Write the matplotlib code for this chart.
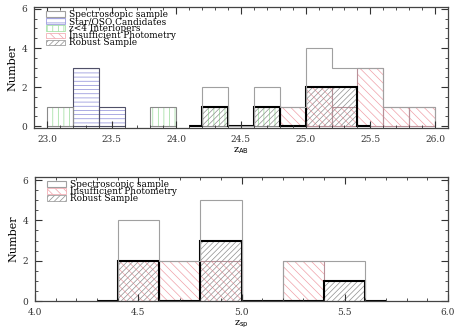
import numpy as np
import matplotlib
matplotlib.use('Agg')
import matplotlib.pyplot as plt
from matplotlib.patches import Patch
from matplotlib.ticker import MultipleLocator

plt.rcParams['font.family'] = 'DejaVu Serif'
plt.rcParams['hatch.linewidth'] = 0.5

# --- data (bin width 0.2, counts per bin) ------------------------------------
width = 0.2

# top panel: magnitude z_AB
top_star_lo = [23.2, 23.4]
top_star_n = [3, 1]
top_inter_lo = [23.0, 23.8, 24.2, 24.6]
top_inter_n = [1, 1, 1, 1]
top_insuf_lo = [24.8, 25.0, 25.2, 25.4, 25.6, 25.8]
top_insuf_n = [1, 2, 1, 3, 1, 1]
top_spec_start = 24.2
top_spec_n = [2, 0, 2, 1, 4, 3, 3, 1, 1]
top_rob_start = 24.2
top_rob_n = [1, 0, 1, 0, 2, 2]

# bottom panel: spectroscopic redshift z_sp
bot_insuf_lo = [4.4, 4.6, 4.8, 5.2]
bot_insuf_n = [2, 2, 2, 2]
bot_spec_start = 4.4
bot_spec_n = [4, 2, 5, 0, 2, 2]
bot_rob_start = 4.4
bot_rob_n = [2, 0, 3, 0, 0, 1]

# colours
c_spec = '#a0a0a0'
c_star_h, c_star_e = '#8a8ad8', '#505068'
c_inter_h, c_inter_e = '#98dc98', '#8a8a8a'
c_insuf_h, c_insuf_e = '#f0a0a8', '#b89098'
c_rob_h = '#8e8e8e'

H_STAR = '----'
H_INTER = '|||'
H_INSUF = '\\\\\\\\'
H_ROB = '//////'


def hatched(ax, lo, n, hcol, ecol, hatch):
    ax.bar(lo, n, width=width, align='edge', fill=False, hatch=hatch,
           edgecolor=hcol, linewidth=0)
    ax.bar(lo, n, width=width, align='edge', fill=False,
           edgecolor=ecol, linewidth=0.8)


def robust(ax, start, n):
    lo = start + width * np.arange(len(n))
    ax.bar(lo, n, width=width, align='edge', fill=False, hatch=H_ROB,
           edgecolor=c_rob_h, linewidth=0)
    # IDL-style outline, padded with half-width empty bins
    vals = np.concatenate([[0], n, [0]])
    edges = np.concatenate([[start - width / 2], start + width * np.arange(len(n) + 1),
                            [start + width * len(n) + width / 2]])
    ax.stairs(vals, edges, color='black', linewidth=1.5, baseline=None)


def spec(ax, start, n):
    edges = start + width * np.arange(len(n) + 1)
    ax.stairs(n, edges, color=c_spec, linewidth=0.8, baseline=0)


def style(ax):
    ax.tick_params(which='both', direction='in', top=True, right=True,
                   labelsize=6.5, colors='#333333', pad=5)
    ax.tick_params(which='major', length=5, width=0.8)
    ax.tick_params(which='minor', length=2.5, width=0.6)
    ax.yaxis.set_major_locator(MultipleLocator(2))
    ax.yaxis.set_minor_locator(MultipleLocator(0.5))
    ax.xaxis.set_major_locator(MultipleLocator(0.5))
    ax.xaxis.set_minor_locator(MultipleLocator(0.1))
    for s in ax.spines.values():
        s.set_color('#444444')
        s.set_linewidth(0.9)
    ax.set_ylabel('Number', fontsize=8, labelpad=3)


fig = plt.figure(figsize=(4.63, 3.33), dpi=100)
ax1 = fig.add_axes([0.0734, 0.6156, 0.8942, 0.3634])
ax2 = fig.add_axes([0.0756, 0.096, 0.892, 0.3725])

# top panel
hatched(ax1, top_star_lo, top_star_n, c_star_h, c_star_e, H_STAR)
hatched(ax1, top_inter_lo, top_inter_n, c_inter_h, c_inter_e, H_INTER)
hatched(ax1, top_insuf_lo, top_insuf_n, c_insuf_h, c_insuf_e, H_INSUF)
robust(ax1, top_rob_start, top_rob_n)
spec(ax1, top_spec_start, top_spec_n)
ax1.set_xlim(22.9, 26.1)
ax1.set_ylim(-0.09, 6.1)
style(ax1)
ax1.set_xlabel(r'z$_{\rm AB}$', fontsize=7, labelpad=1)

h_spec = Patch(facecolor='white', edgecolor=c_spec, linewidth=0.8)
h_star = Patch(facecolor='white', edgecolor=c_star_h, hatch=H_STAR, linewidth=0.5)
h_inter = Patch(facecolor='white', edgecolor=c_inter_h, hatch=H_INTER, linewidth=0.5)
h_insuf = Patch(facecolor='white', edgecolor=c_insuf_h, hatch=H_INSUF, linewidth=0.5)
h_rob = Patch(facecolor='white', edgecolor=c_rob_h, hatch=H_ROB, linewidth=0.5)

leg_kw = dict(loc='upper left', bbox_to_anchor=(0.015, 1.025), frameon=False,
              fontsize=6.4, handlelength=2.1, handleheight=0.55,
              labelspacing=-0.22, handletextpad=0.4, borderpad=0.2)
ax1.legend([h_spec, h_star, h_inter, h_insuf, h_rob],
           ['Spectroscopic sample', 'Star/QSO Candidates', 'z<4 Interlopers',
            'Insufficient Photometry', 'Robust Sample'], **leg_kw)

# bottom panel
hatched(ax2, bot_insuf_lo, bot_insuf_n, c_insuf_h, c_insuf_e, H_INSUF)
robust(ax2, bot_rob_start, bot_rob_n)
spec(ax2, bot_spec_start, bot_spec_n)
ax2.set_xlim(4.0, 6.0)
ax2.set_ylim(0, 6.15)
style(ax2)
ax2.set_xlabel(r'z$_{\rm sp}$', fontsize=7, labelpad=1)
ax2.legend([h_spec, h_insuf, h_rob],
           ['Spectroscopic sample', 'Insufficient Photometry', 'Robust Sample'],
           **leg_kw)

fig.savefig('out.png', dpi=100)
